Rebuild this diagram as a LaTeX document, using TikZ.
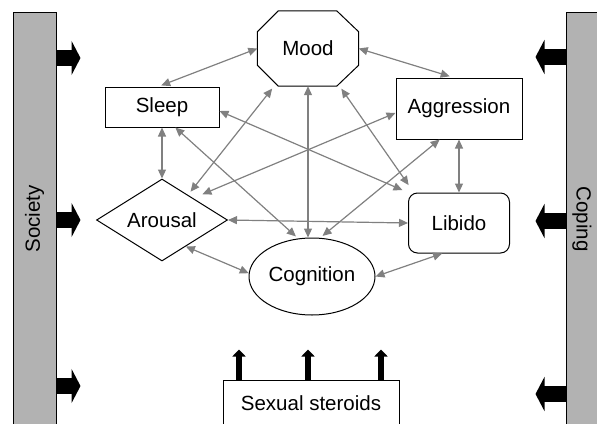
\documentclass[tikz,border=0pt]{standalone}
\usepackage{fontspec}
\setmainfont{Liberation Sans}
\usepackage{graphicx}
\usepackage{tikz}
\usetikzlibrary{arrows.meta,positioning,shapes.geometric}
\definecolor{linkgray}{RGB}{128,128,128}
\definecolor{barfill}{RGB}{178,178,178}
\newcommand{\diagfont}{\fontsize{20.5}{24}\selectfont}

\begin{document}
\begin{tikzpicture}[
  x=1pt, y=-1pt,
  base/.style={draw=black, line width=1pt, fill=white, align=center, font=\diagfont},
  box/.style={base, rectangle},
  octa/.style={rectangle, align=center, font=\diagfont,
    minimum width=101pt, minimum height=75pt},
  diam/.style={base, diamond, aspect=1.6, inner sep=1pt,
    minimum width=131pt, minimum height=82pt},
  oval/.style={base, ellipse, inner sep=0pt, minimum width=126pt, minimum height=77pt},
  soft/.style={box, rounded corners=9pt},
  bar/.style={draw=black, line width=1pt, fill=barfill, font=\diagfont,
    minimum height=414pt, inner sep=0pt},
  link/.style={{Triangle[length=9pt,width=8pt]}-{Triangle[length=9pt,width=8pt]},
    draw=linkgray, line width=1.2pt},
  push/.style={-{Triangle[length=9pt,width=34pt]}, line width=16pt},
  lift/.style={-{Triangle[length=7pt,width=13pt]}, line width=6pt}
]
\useasboundingbox (0,0) rectangle (597,423);

\node[bar, minimum width=43pt] (society) at (34.5,219) {\rotatebox{90}{Society}};
\node[bar, minimum width=32pt] (coping) at (582,219) {\rotatebox{-90}{Coping}};

\node[octa] (mood) at (308,48.5) {Mood};
\draw[line width=1pt] ([xshift=21pt]mood.north west) -- ([xshift=-22pt]mood.north east)
  -- ([yshift=-21pt]mood.north east) -- ([yshift=21pt]mood.south east)
  -- ([xshift=-22pt]mood.south east) -- ([xshift=21pt]mood.south west)
  -- ([yshift=21pt]mood.south west) -- ([yshift=-21pt]mood.north west) -- cycle;
\node[box, minimum width=114pt, minimum height=40pt] (sleep) at (162,107) {Sleep};
\node[box, minimum width=126pt, minimum height=61pt] (aggr) at (459,108.5) {Aggression};
\node[diam, below=51pt of sleep] (arousal) {Arousal};
\node[soft, minimum width=101pt, minimum height=60pt, below=53pt of aggr] (libido) {Libido};
\node[oval] (cog) at (312,276.5) {Cognition};
\node[box, minimum width=176pt, minimum height=46pt] (steroids) at (311,403) {Sexual steroids};

\foreach \y in {58,220,386}
  \draw[push] (society.east |- 0,\y) -- ++(24,0);
\foreach \y in {57,221,394}
  \draw[push] (coping.west |- 0,\y) -- ++(-30,0);
\foreach \x in {239,308,381}
  \draw[lift] (steroids.north -| \x,0) -- ++(0,-30);

\draw[link, shorten >=3pt] (mood.west) -- (sleep.100);
\draw[link, shorten >=4pt] (mood.east) -- (aggr.100);
\draw[link] (mood.south) -- (mood.south |- cog.north);
\draw[link, shorten <=3pt, shorten >=4pt] (mood.228) -- (arousal.44);
\draw[link, shorten <=3pt, shorten >=9pt] (mood.310) -- (libido.146);
\draw[link] (sleep.south) -- (arousal.north);
\draw[link, shorten >=6pt] (sleep.-4) -- (libido.north west);
\draw[link, shorten >=3pt] (sleep.303) -- (cog.110);
\draw[link, shorten >=10pt] (aggr.184) -- (arousal.35);
\draw[link, shorten >=3pt] (aggr.238) -- (cog.78);
\draw[link] (aggr.south) -- (libido.north);
\draw[link] (arousal.east) -- (libido.west);
\draw[link] (arousal.312) -- (cog.177);
\draw[link] (cog.east) -- (libido.241);
\end{tikzpicture}
\end{document}
